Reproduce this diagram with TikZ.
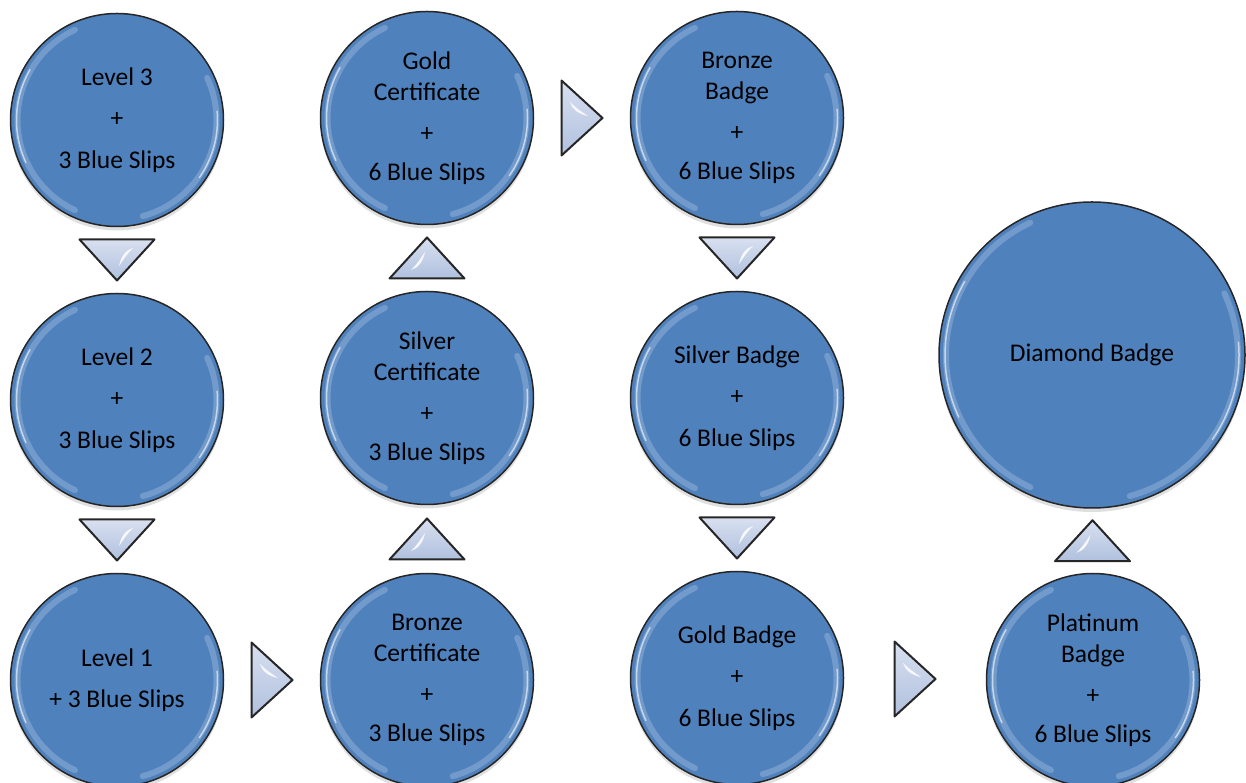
\documentclass[tikz,border=0pt]{standalone}
\usepackage{fontspec}
\setmainfont{Carlito}
\usetikzlibrary{shadows,calc}
\definecolor{bblue}{HTML}{4F81BD}
\definecolor{tlight}{HTML}{D8E0F0}
\definecolor{tdark}{HTML}{B0C0DE}
\tikzset{
 bubble/.style={circle, draw=black!85, line width=1.5pt, fill=bblue, inner sep=0pt,
   minimum size=213pt, align=center, font=\fontsize{25.5}{30.5}\selectfont,
   drop shadow={opacity=0.25, shadow xshift=0pt, shadow yshift=-4pt}},
 bigbubble/.style={bubble, minimum size=306pt},
 glossA/.style={white, opacity=0.2, line width=6pt, line cap=round},
 glossB/.style={white, opacity=0.6, line width=1.5pt, line cap=round},
 trishape/.style={draw=black!85, line width=2pt, line join=round, top color=tlight, bottom color=tdark},
 arrowtri/.pic={
   \draw[trishape] (-37.5,20.5) -- (37.5,20.5) -- (0,-20.5) -- cycle;
   \fill[white, opacity=0.85] (2,-6) .. controls (4,4) and (9,10) .. (16,12) .. controls (10,6) and (6,0) .. cycle;
 }
}
\begin{document}
\begin{tikzpicture}[x=1pt,y=1pt]
\useasboundingbox (0,0) rectangle (1246,783);
% column 1
\node[bubble] (L3) at (117,663) {Level 3\\[11pt]+\\[11pt]3 Blue Slips};
\node[bubble] (L2) at (117,383) {Level 2\\[11pt]+\\[11pt]3 Blue Slips};
\node[bubble] (L1) at (117,103) {Level 1\\[10pt]+ 3 Blue Slips};
% column 2
\node[bubble] (GC) at (427,665) {Gold\\Certificate\\[11pt]+\\[8pt]6 Blue Slips};
\node[bubble] (SC) at (427,385) {Silver\\Certificate\\[11pt]+\\[8pt]3 Blue Slips};
\node[bubble] (BC) at (427,103) {Bronze\\Certificate\\[11pt]+\\[8pt]3 Blue Slips};
% column 3
\node[bubble] (BB) at (737,665) {Bronze\\Badge\\[11pt]+\\[8pt]6 Blue Slips};
\node[bubble] (SB) at (737,385) {Silver Badge\\[11pt]+\\[11pt]6 Blue Slips};
\node[bubble] (GB) at (737,105) {Gold Badge\\[11pt]+\\[11pt]6 Blue Slips};
% column 4
\node[bigbubble] (D) at (1092,428) {Diamond Badge};
\node[bubble] (P) at (1093,103) {Platinum\\Badge\\[11pt]+\\[8pt]6 Blue Slips};
% gloss
\foreach \n/\r in {L3/106.5,L2/106.5,L1/106.5,GC/106.5,SC/106.5,BC/106.5,BB/106.5,SB/106.5,GB/106.5,P/106.5,D/153}{
  \draw[glossA] ([shift={(115:\r-7)}]\n.center) arc[start angle=115, end angle=245, radius=\r-7];
  \draw[glossA] ([shift={(-75:\r-7)}]\n.center) arc[start angle=-75, end angle=25, radius=\r-7];
  \draw[glossB] ([shift={(150:\r-6)}]\n.center) arc[start angle=150, end angle=205, radius=\r-6];
  \draw[glossB] ([shift={(-35:\r-6)}]\n.center) arc[start angle=-35, end angle=5, radius=\r-6];
}
% arrows
\path ($(L3.south)!0.5!(L2.north)$) pic {arrowtri};
\path ($(L2.south)!0.5!(L1.north)$) pic {arrowtri};
\path ($(L1.east)!0.5!(BC.west)$) pic[rotate=90] {arrowtri};
\path ($(BC.north)!0.5!(SC.south)$) pic[rotate=180] {arrowtri};
\path ($(SC.north)!0.5!(GC.south)$) pic[rotate=180] {arrowtri};
\path ($(GC.east)!0.5!(BB.west)$) pic[rotate=90] {arrowtri};
\path ($(BB.south)!0.5!(SB.north)$) pic {arrowtri};
\path ($(SB.south)!0.5!(GB.north)$) pic {arrowtri};
\path ($(GB.east)!0.5!(P.west)$) pic[rotate=90] {arrowtri};
\path ($(P.north)!0.5!(D.south)$) pic[rotate=180] {arrowtri};
\end{tikzpicture}
\end{document}
